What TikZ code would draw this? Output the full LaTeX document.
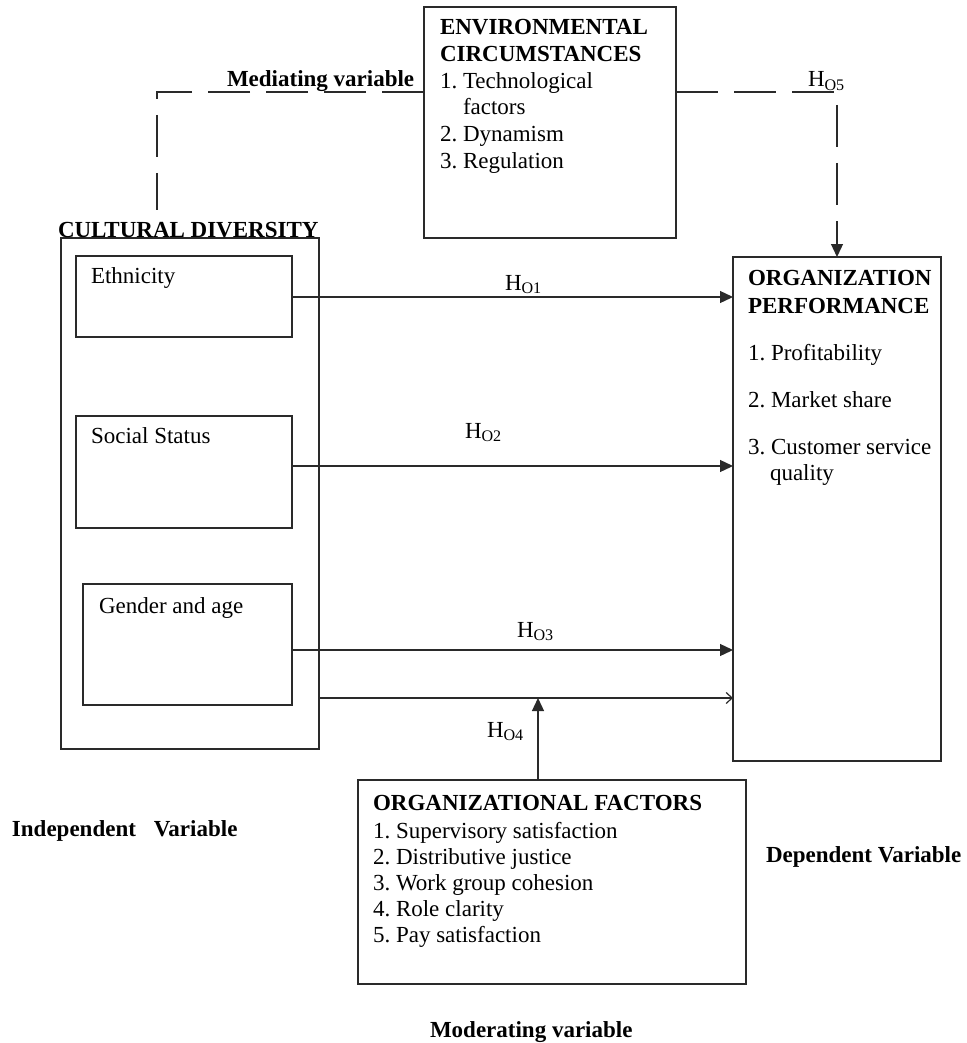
\documentclass[tikz,border=0pt]{standalone}
\usepackage{fontspec}
\setmainfont{Liberation Serif}
\usetikzlibrary{arrows.meta,calc}
\definecolor{ln}{HTML}{2a2a2a}
\frenchspacing
\begin{document}
\begin{tikzpicture}[x=1pt,y=-1pt,
  every node/.style={font=\fontsize{23}{26}\selectfont, inner sep=0pt, outer sep=0pt},
  box/.style={draw=ln, line width=1.3pt, anchor=north west, rectangle},
  txt/.style={anchor=base west, execute at begin node=\frenchspacing},
  btxt/.style={anchor=base west, font=\fontsize{23}{26}\selectfont\bfseries},
  conn/.style={draw=ln, line width=1.3pt},
  dashline/.style={conn, dash pattern=on 42pt off 16pt},
  tip/.style={-{Triangle[length=13pt,width=12pt]}},
  opentip/.style={-{Straight Barb[length=6pt,width=11pt,line width=1.2pt]}}]
\useasboundingbox (0,0) rectangle (966,1043);

% boxes
\node[box, minimum width=252pt, minimum height=231pt] (env) at (424,7) {};
\node[box, minimum width=258pt, minimum height=511pt] (cd) at (61,238) {};
\node[box, minimum width=216pt, minimum height=81pt] (eth) at (76,256) {};
\node[box, minimum width=216pt, minimum height=112pt] (soc) at (76,416) {};
\node[box, minimum width=209pt, minimum height=121pt] (gen) at (83,584) {};
\node[box, minimum width=208pt, minimum height=504pt] (perf) at (733,257) {};
\node[box, minimum width=388pt, minimum height=204pt] (of) at (358,780) {};

% environmental circumstances text
\node[btxt] (e1) at (440,35) {ENVIRONMENTAL};
\node[btxt] (e2) at (440,62) {CIRCUMSTANCES};
\node[txt] (e3) at (440,89) {1. Technological};
\node[txt] (e4) at (463,115) {factors};
\node[txt] (e5) at (440,142) {2. Dynamism};
\node[txt] (e6) at (440,168) {3. Regulation};

% mediating dashed connectors
\coordinate (mT) at (157,92);
\coordinate (mL) at (157,210);
\coordinate (rT) at (837,92);
\draw[dashline] (env.west |- mT) -- (mT) -- (mL);
\draw[dashline, tip] (env.east |- rT) -- (rT) -- (perf.north);
\node[btxt] (med) at (227,87) {Mediating variable};
\node[txt] (h5) at (808,87) {H\textsubscript{O5}};

% cultural diversity
\node[btxt] (cdt) at (58,237) {CULTURAL DIVERSITY};
\node[txt] (etht) at (91,283) {Ethnicity};
\node[txt] (soct) at (91,443) {Social Status};
\node[txt] (gent) at (99,613) {Gender and age};

% arrows to performance
\coordinate (a1) at (0,297);
\coordinate (a2) at (0,466);
\coordinate (a3) at (0,650);
\coordinate (a4) at (0,698);
\coordinate (a4v) at (538,698);
\draw[conn, tip] (eth.east |- a1) -- (perf.west |- a1);
\draw[conn, tip] (soc.east |- a2) -- (perf.west |- a2);
\draw[conn, tip] (gen.east |- a3) -- (perf.west |- a3);
\draw[conn, opentip] (cd.east |- a4) -- (perf.west |- a4);
\draw[conn, tip] (of.north -| a4v) -- (a4v);
\node[txt] (h1) at (505,290) {H\textsubscript{O1}};
\node[txt] (h2) at (465,438) {H\textsubscript{O2}};
\node[txt] (h3) at (517,637) {H\textsubscript{O3}};
\node[txt] (h4) at (487,737) {H\textsubscript{O4}};

% organization performance text
\node[btxt] (p1) at (748,285) {ORGANIZATION};
\node[btxt] (p2) at (748,313) {PERFORMANCE};
\node[txt] (p3) at (748,360) {1. Profitability};
\node[txt] (p4) at (748,407) {2. Market share};
\node[txt] (p5) at (748,454) {3. Customer service};
\node[txt] (p6) at (770,480) {quality};

% organizational factors text
\node[btxt] (o0) at (373,810) {ORGANIZATIONAL FACTORS};
\node[txt] (o1) at (373,838) {1. Supervisory satisfaction};
\node[txt] (o2) at (373,864) {2. Distributive justice};
\node[txt] (o3) at (373,890) {3. Work group cohesion};
\node[txt] (o4) at (373,916) {4. Role clarity};
\node[txt] (o5) at (373,942) {5. Pay satisfaction};

% variable captions
\node[btxt] (iv) at (12,836) {Independent\hspace{18pt}Variable};
\node[btxt] (dv) at (766,862) {Dependent Variable};
\node[btxt] (mv) at (430,1037) {Moderating variable};
\end{tikzpicture}
\end{document}
